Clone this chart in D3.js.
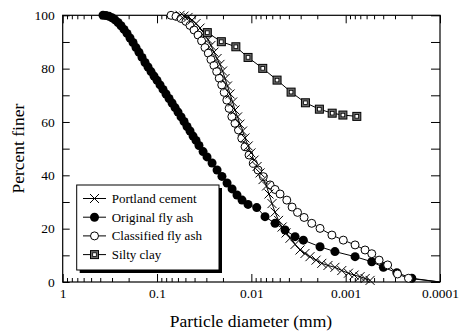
<!DOCTYPE html>
<html><head><meta charset="utf-8">
<script src="https://cdn.jsdelivr.net/npm/d3@7"></script>
<style>
body{margin:0;background:#fff}
svg{display:block}
svg text{font-family:'Liberation Serif','DejaVu Serif',serif;fill:#000}
</style>
</head><body>
<svg id="c" width="462" height="333"></svg>
<script>
// ---- data (particle diameter mm, percent finer) ----
const seriesNames = ["Portland cement", "Original fly ash", "Classified fly ash", "Silty clay"];

const portlandDiam = [0.0570,0.0517,0.0469,0.0425,0.0386,0.0350,0.0318,0.0288,0.0268,0.0249,0.0231,0.0215,0.0202,0.0190,0.0179,0.0168,0.0158,0.0149,0.0140,0.0132,0.0124,0.0117,0.0108,0.0101,0.00936,0.00870,0.00809,0.00752,0.00690,0.00650,0.00604,0.00561,0.00515,0.00472,0.00428,0.00389,0.00344,0.00305,0.00270,0.00239,0.00206,0.00179,0.00154,0.00130,0.00110,0.000935,0.000814,0.000704,0.000622,0.000551];
const portlandFiner = [100,99.7,99.2,98.2,96.9,95.2,93.4,90.9,88.7,86.2,83.8,81.6,79.1,76.3,73.5,70.5,67.5,64.5,61.9,59.2,56.6,54.0,51.0,48.4,45.7,43.3,40.9,38.4,36.0,33.0,29.4,26.2,23.1,20.6,18.4,16.4,14.1,12.0,10.7,9.5,8.2,7.0,6.2,5.5,4.3,3.3,2.6,2.0,1.3,0.6];

const originalDiam = [0.3738,0.3474,0.3228,0.3000,0.2789,0.2592,0.2408,0.2239,0.2080,0.1933,0.1797,0.1670,0.1552,0.1442,0.1341,0.1246,0.1158,0.1076,0.1000,0.0929,0.0864,0.0803,0.0746,0.0693,0.0644,0.0599,0.0556,0.0517,0.0481,0.0447,0.0415,0.0386,0.0359,0.0325,0.0295,0.0261,0.0231,0.0205,0.0181,0.0160,0.0142,0.01255,0.01084,0.00877,0.00716,0.00561,0.00439,0.00344,0.00281,0.00187,0.00130,0.000795,0.000529,0.000398,0.000287,0.000199];
const originalFiner = [100,99.9,99.6,99.1,98.3,97.3,96.1,94.7,93.2,91.5,89.8,87.9,86.1,84.2,82.3,80.6,78.9,77.2,75.6,73.9,72.2,70.5,68.8,67.1,65.4,63.7,61.9,60.2,58.3,56.6,54.7,53.1,51.2,48.9,46.9,44.6,42.0,39.6,37.1,34.9,32.6,30.7,29.1,27.9,24.5,22.0,19.5,17.0,15.7,13.2,11.4,9.5,7.6,5.5,3.5,1.4];

const classifiedDiam = [0.0710,0.0629,0.0556,0.0493,0.0447,0.0405,0.0367,0.0337,0.0310,0.0286,0.0268,0.0249,0.0233,0.0219,0.0206,0.0194,0.0182,0.0172,0.0161,0.0149,0.0137,0.01264,0.01166,0.01058,0.00953,0.00849,0.00746,0.00633,0.00561,0.00496,0.00421,0.00370,0.00324,0.00276,0.00229,0.00187,0.00140,0.00106,0.000795,0.000623,0.000529,0.000442,0.000359,0.000282,0.000216];
const classifiedFiner = [100,99.6,98.8,97.7,96.2,94.5,92.6,90.4,87.9,85.8,83.4,81.2,78.9,76.4,73.9,71.1,68.2,65.1,62.0,59.5,57.0,53.9,50.7,47.6,44.5,42.0,39.5,36.4,34.7,33.0,30.7,28.1,26.1,24.2,22.0,20.1,17.6,15.7,13.9,12.0,10.6,8.2,6.4,3.0,1.4];

const siltyDiam = [0.0293,0.0208,0.0146,0.01084,0.00757,0.00534,0.00379,0.00267,0.00190,0.00139,0.00107,0.000762];
const siltyFiner = [93.5,90.1,88.2,84.2,80.1,75.7,71.2,67.2,64.8,63.3,62.6,62.1];

// line ends (no marker) of the fly ash curves at the axis corner
const flyAshTailDiam = [0.0001];
const flyAshTailFiner = [0];

const xMajorTicks = [1, 0.1, 0.01, 0.001, 0.0001];
const xTickLabels = ["1", "0.1", "0.01", "0.001", "0.0001"];
const yMajorTicks = [0, 20, 40, 60, 80, 100];
const yMinorTicks = [10, 30, 50, 70, 90];
const xTitle = "Particle diameter (mm)";
const yTitle = "Percent finer";

// ---- layout ----
const FONT = "'Liberation Serif','DejaVu Serif',serif";
const L = 62.7, R = 440, T = 15.3, B = 282;
const svg = d3.select("#c");
const x = d3.scaleLog().domain([1, 0.0001]).range([L, R]);
const y = d3.scaleLinear().domain([0, 100]).range([B, T]);

const xMinor = [];
xMajorTicks.slice(1).forEach(p => { for (let k = 2; k <= 9; k++) xMinor.push(+(k * p).toPrecision(3)); });

function pts(d, f) { return d.map((v, i) => [v, f[i]]); }

// axes (ticks inward)
const gB = svg.append("g").attr("transform", `translate(0,${B})`);
gB.call(d3.axisBottom(x).tickValues(xMajorTicks).tickSize(-8).tickFormat((d, i) => xTickLabels[i]).tickPadding(6));
gB.append("g").call(d3.axisBottom(x).tickValues(xMinor).tickSize(-4).tickFormat(""));
const gT = svg.append("g").attr("transform", `translate(0,${T})`);
gT.call(d3.axisTop(x).tickValues(xMajorTicks).tickSize(-8).tickFormat(""));
gT.append("g").call(d3.axisTop(x).tickValues(xMinor).tickSize(-4).tickFormat(""));
const gL = svg.append("g").attr("transform", `translate(${L},0)`);
gL.call(d3.axisLeft(y).tickValues(yMajorTicks).tickSize(-7).tickPadding(8));
gL.append("g").call(d3.axisLeft(y).tickValues(yMinorTicks).tickSize(-7).tickFormat(""));
const gR = svg.append("g").attr("transform", `translate(${R},0)`);
gR.call(d3.axisRight(y).tickValues(yMajorTicks).tickSize(-9).tickFormat(""));
gR.append("g").call(d3.axisRight(y).tickValues(yMinorTicks).tickSize(-9).tickFormat(""));
svg.selectAll(".domain").remove();
svg.selectAll("g").attr("font-family", null).attr("font-size", null);
svg.selectAll(".tick line").attr("stroke", "#000").attr("stroke-width", 1);
svg.selectAll(".tick text").style("font-family", FONT).style("font-size", "13.5px");

svg.append("rect").attr("x", L).attr("y", T).attr("width", R - L).attr("height", B - T)
  .attr("fill", "none").attr("stroke", "#000").attr("stroke-width", 1.2);

// titles
svg.append("text").attr("x", 251).attr("y", 327).attr("text-anchor", "middle")
  .style("font-family", FONT).style("font-size", "17.5px").text(xTitle);
svg.append("text").attr("transform", `translate(24,${(T + B) / 2}) rotate(-90)`).attr("text-anchor", "middle")
  .style("font-family", FONT).style("font-size", "17.5px").text(yTitle);

const line = d3.line().x(d => x(d[0])).y(d => y(d[1]));

// markers
function drawMarker(g, type, cx, cy) {
  if (type === "x") {
    const s = 4.5;
    g.append("path").attr("d", `M${cx - s},${cy - s}L${cx + s},${cy + s}M${cx - s},${cy + s}L${cx + s},${cy - s}`)
      .attr("stroke", "#000").attr("stroke-width", 1);
  } else if (type === "filled") {
    g.append("circle").attr("cx", cx).attr("cy", cy).attr("r", 4.5).attr("fill", "#000");
  } else if (type === "open") {
    g.append("circle").attr("cx", cx).attr("cy", cy).attr("r", 4).attr("fill", "#fff").attr("stroke", "#000").attr("stroke-width", 1);
  } else if (type === "square") {
    g.append("rect").attr("x", cx - 4).attr("y", cy - 4).attr("width", 8).attr("height", 8)
      .attr("fill", "#6a6a6a").attr("stroke", "#000").attr("stroke-width", 1);
    g.append("rect").attr("x", cx - 1.8).attr("y", cy - 1.8).attr("width", 3.6).attr("height", 3.6)
      .attr("fill", "#fff").attr("stroke", "#000").attr("stroke-width", 0.8);
  }
}

const series = [
  { name: seriesNames[1], type: "filled", data: pts(originalDiam, originalFiner), tail: pts(flyAshTailDiam, flyAshTailFiner) },
  { name: seriesNames[2], type: "open", data: pts(classifiedDiam, classifiedFiner), tail: pts(flyAshTailDiam, flyAshTailFiner) },
  { name: seriesNames[0], type: "x", data: pts(portlandDiam, portlandFiner), tail: [] },
  { name: seriesNames[3], type: "square", data: pts(siltyDiam, siltyFiner), tail: [] }
];

series.forEach(s => {
  svg.append("path").attr("d", line(s.data.concat(s.tail))).attr("fill", "none").attr("stroke", "#000").attr("stroke-width", 1);
});
series.forEach(s => {
  const g = svg.append("g");
  s.data.forEach(d => drawMarker(g, s.type, x(d[0]), y(d[1])));
});

// legend
const lg = svg.append("g");
const lx = 76.7, ly = 185, lw = 142.3, lh = 85;
lg.append("rect").attr("x", lx + 3).attr("y", ly + 3).attr("width", lw).attr("height", lh).attr("fill", "#000");
lg.append("rect").attr("x", lx).attr("y", ly).attr("width", lw).attr("height", lh).attr("fill", "#fff").attr("stroke", "#000").attr("stroke-width", 1);
const legendOrder = [["x", seriesNames[0]], ["filled", seriesNames[1]], ["open", seriesNames[2]], ["square", seriesNames[3]]];
legendOrder.forEach((e, i) => {
  const cy = 198.5 + i * 18.7;
  lg.append("line").attr("x1", 83).attr("x2", 106).attr("y1", cy).attr("y2", cy).attr("stroke", "#000").attr("stroke-width", 1);
  drawMarker(lg, e[0], 94.5, cy);
  lg.append("text").attr("x", 111.7).attr("y", cy + 4.5).style("font-family", FONT).style("font-size", "13px").text(e[1]);
});
</script>
</body></html>
